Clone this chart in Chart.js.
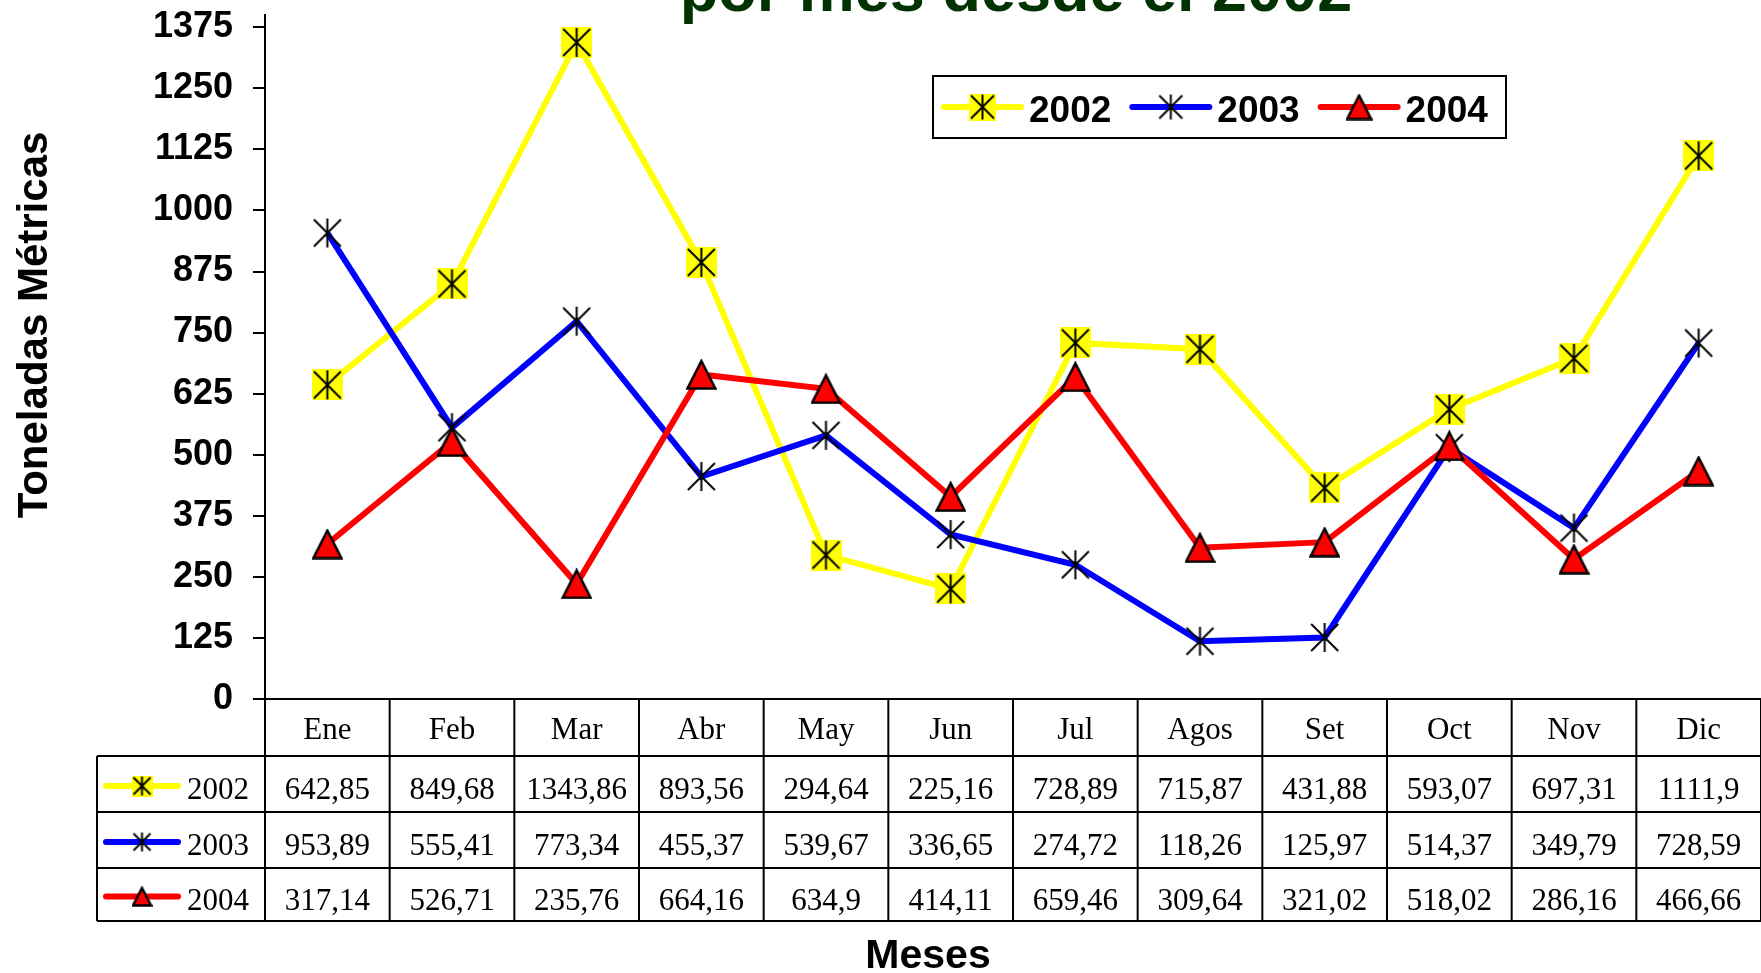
<!DOCTYPE html>
<html>
<head>
<meta charset="utf-8">
<script src="https://cdn.jsdelivr.net/npm/chart.js@4"></script>
<style>
  html, body { margin: 0; padding: 0; background: #fff; }
  #wrap { width: 1761px; height: 973px; }
</style>
</head>
<body>
<div id="wrap"><canvas id="chart" width="1761" height="973"></canvas></div>
<script>
const months = ['Ene', 'Feb', 'Mar', 'Abr', 'May', 'Jun', 'Jul', 'Agos', 'Set', 'Oct', 'Nov', 'Dic'];
const years = ['2002', '2003', '2004'];
const v2002 = [642.85, 849.68, 1343.86, 893.56, 294.64, 225.16, 728.89, 715.87, 431.88, 593.07, 697.31, 1111.9];
const v2003 = [953.89, 555.41, 773.34, 455.37, 539.67, 336.65, 274.72, 118.26, 125.97, 514.37, 349.79, 728.59];
const v2004 = [317.14, 526.71, 235.76, 664.16, 634.9, 414.11, 659.46, 309.64, 321.02, 518.02, 286.16, 466.66];
const yMax = 1400;
const yStep = 125;

const colors = ['#ffff00', '#0000ff', '#ff0000'];
const markerKinds = ['square', 'star', 'triangle'];
const SANS = '"Liberation Sans", Arial, sans-serif';
const SERIF = '"Liberation Serif", "Times New Roman", serif';

// marker images: yellow square + asterisk, black asterisk, red triangle
function makeMarker(kind, s) {
    const c = document.createElement('canvas');
    c.width = s; c.height = s;
    const g = c.getContext('2d');
    if (kind === 'square') {
        g.fillStyle = '#ffff00';
        g.fillRect(0, 0, s, s);
    }
    if (kind === 'square' || kind === 'star') {
        g.strokeStyle = '#000';
        g.lineWidth = 2;
        g.beginPath();
        g.moveTo(s / 2, 1); g.lineTo(s / 2, s - 1);
        g.moveTo(2, 2); g.lineTo(s - 2, s - 2);
        g.moveTo(s - 2, 2); g.lineTo(2, s - 2);
        g.stroke();
    }
    if (kind === 'triangle') {
        g.fillStyle = '#ff0000';
        g.strokeStyle = '#000';
        g.lineWidth = 2.5;
        g.beginPath();
        g.moveTo(s / 2, 2);
        g.lineTo(s - 1.5, s - 1.5);
        g.lineTo(1.5, s - 1.5);
        g.closePath();
        g.fill();
        g.stroke();
    }
    return c;
}

const bigMarkers = markerKinds.map(k => makeMarker(k, 31));
const legendMarkers = markerKinds.map(k => makeMarker(k, 27));
const tableMarkers = markerKinds.map(k => makeMarker(k, 21));
const series = [v2002, v2003, v2004];

function fmt(v) {
    return String(v).replace('.', ',');
}

const decorPlugin = {
    id: 'decor',
    afterDraw(chart) {
        const ctx = chart.ctx;
        const area = chart.chartArea;
        ctx.save();

        // title (second line, clipped at the top)
        ctx.fillStyle = '#003300';
        ctx.font = 'bold 63px ' + SANS;
        ctx.textAlign = 'center';
        ctx.textBaseline = 'alphabetic';
        ctx.fillText('por mes desde el 2002', 1016, 11);

        // y axis title
        ctx.save();
        ctx.translate(47, 325);
        ctx.rotate(-Math.PI / 2);
        ctx.fillStyle = '#000';
        ctx.font = 'bold 42px ' + SANS;
        ctx.fillText('Toneladas Métricas', 0, 0);
        ctx.restore();

        // legend
        const lx = 933, ly = 76, lw = 573, lh = 62;
        ctx.fillStyle = '#fff';
        ctx.fillRect(lx, ly, lw, lh);
        ctx.strokeStyle = '#000';
        ctx.lineWidth = 2;
        ctx.strokeRect(lx, ly, lw, lh);
        ctx.font = 'bold 37px ' + SANS;
        ctx.textAlign = 'left';
        let cx = lx + 11;
        const cy = ly + 31;
        years.forEach((y, i) => {
            ctx.strokeStyle = colors[i];
            ctx.lineWidth = 6;
            ctx.lineCap = 'round';
            ctx.beginPath();
            ctx.moveTo(cx, cy); ctx.lineTo(cx + 77, cy);
            ctx.stroke();
            const m = legendMarkers[i];
            ctx.drawImage(m, cx + 38.5 - m.width / 2, cy - m.height / 2);
            ctx.fillStyle = '#000';
            ctx.fillText(y, cx + 85, cy + 15);
            cx += 85 + ctx.measureText(y).width + 21;
        });

        // data table below the axis
        const colW = (area.right - area.left) / months.length;
        const tLeft = 97;
        const rowTops = [area.bottom, area.bottom + 57, area.bottom + 113, area.bottom + 169];
        const tBottom = area.bottom + 222;
        ctx.strokeStyle = '#000';
        ctx.lineWidth = 2;
        ctx.lineCap = 'butt';
        ctx.beginPath();
        ctx.moveTo(area.left, area.bottom); ctx.lineTo(area.right, area.bottom);
        for (let r = 1; r < rowTops.length; r++) {
            ctx.moveTo(tLeft, rowTops[r]); ctx.lineTo(area.right, rowTops[r]);
        }
        ctx.moveTo(tLeft, tBottom); ctx.lineTo(area.right, tBottom);
        ctx.moveTo(tLeft, rowTops[1]); ctx.lineTo(tLeft, tBottom);
        for (let c = 0; c <= months.length; c++) {
            const x = area.left + c * colW;
            ctx.moveTo(x, area.bottom); ctx.lineTo(x, tBottom);
        }
        ctx.stroke();

        ctx.fillStyle = '#000';
        ctx.font = '31px ' + SERIF;
        ctx.textAlign = 'center';
        const xs = chart.scales.x;
        months.forEach((m, i) => {
            ctx.fillText(m, xs.getPixelForValue(i), rowTops[0] + 40);
        });
        series.forEach((vals, r) => {
            const top = rowTops[r + 1];
            const bot = r + 2 < rowTops.length ? rowTops[r + 2] : tBottom;
            const mid = (top + bot) / 2;
            ctx.textAlign = 'center';
            vals.forEach((v, i) => {
                ctx.fillText(fmt(v), xs.getPixelForValue(i), mid + 15);
            });
            // legend key in the first column
            ctx.strokeStyle = colors[r];
            ctx.lineWidth = 6;
            ctx.lineCap = 'round';
            ctx.beginPath();
            ctx.moveTo(106, mid + 2); ctx.lineTo(178, mid + 2);
            ctx.stroke();
            const m = tableMarkers[r];
            ctx.drawImage(m, 142 - m.width / 2, mid + 2 - m.height / 2);
            ctx.textAlign = 'left';
            ctx.fillText(years[r], 187, mid + 15);
        });

        // x axis title
        ctx.font = 'bold 41px ' + SANS;
        ctx.textAlign = 'center';
        ctx.fillText('Meses', 928, 968);
        ctx.restore();
    }
};

new Chart(document.getElementById('chart').getContext('2d'), {
    type: 'line',
    data: {
        labels: months,
        datasets: series.map((vals, i) => ({
            label: years[i],
            data: vals,
            borderColor: colors[i],
            backgroundColor: colors[i],
            borderWidth: 6,
            tension: 0,
            fill: false,
            pointStyle: bigMarkers[i],
            pointRadius: 15,
            order: 2 - i
        }))
    },
    options: {
        responsive: false,
        animation: false,
        devicePixelRatio: 1,
        layout: {
            autoPadding: false,
            padding: { top: 15, left: 0, right: 0, bottom: 274 }
        },
        plugins: {
            legend: { display: false },
            tooltip: { enabled: false }
        },
        scales: {
            x: {
                offset: true,
                ticks: { display: false },
                grid: { display: false },
                border: { display: true, color: '#000', width: 2 },
                afterFit: (scale) => {
                    scale.height = 0;
                    scale.paddingLeft = 0;
                    scale.paddingRight = 0;
                }
            },
            y: {
                min: 0,
                max: yMax,
                ticks: {
                    stepSize: yStep,
                    includeBounds: false,
                    padding: 20,
                    color: '#000',
                    font: { family: SANS, size: 36, weight: 'bold' },
                    callback: (value) => String(value)
                },
                grid: {
                    display: true,
                    drawOnChartArea: false,
                    drawTicks: true,
                    tickLength: 12,
                    color: '#000',
                    lineWidth: 2
                },
                border: { display: true, color: '#000', width: 2 },
                afterFit: (scale) => {
                    scale.width = 265;
                    scale.paddingTop = 0;
                    scale.paddingBottom = 0;
                }
            }
        }
    },
    plugins: [decorPlugin]
});
</script>
</body>
</html>
